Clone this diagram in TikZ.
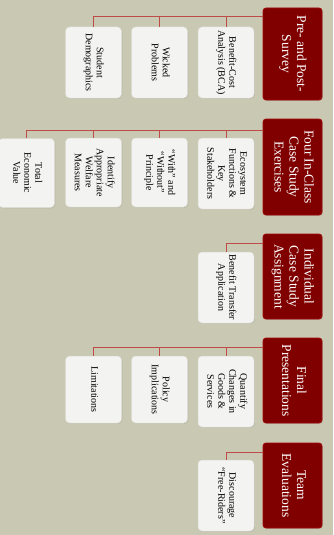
\documentclass[tikz,border=0pt]{standalone}
\usepackage{fontspec}
\setmainfont{Liberation Serif}
\usetikzlibrary{shadows}
\definecolor{bgc}{RGB}{201,200,178}
\definecolor{darkred}{RGB}{128,0,0}
\definecolor{redborder}{RGB}{160,10,10}
\definecolor{boxw}{RGB}{243,243,242}
\definecolor{boxedge}{RGB}{220,220,210}
\definecolor{connc}{RGB}{190,75,72}
\newcommand{\rtxt}[1]{\rotatebox{-90}{\begin{tabular}{@{}c@{}}#1\end{tabular}}}
\tikzset{
 rbox/.style={fill=darkred, draw=redborder, rounded corners=3pt, line width=0.8pt, text=white, inner sep=0pt, minimum width=59pt, font=\fontsize{13.5}{15}\selectfont, drop shadow={opacity=0.3, shadow xshift=0.8pt, shadow yshift=-0.8pt}},
 wbox/.style={fill=boxw, draw=boxedge, rounded corners=4pt, line width=0.5pt, inner sep=0pt, minimum width=56pt, font=\fontsize{10}{11}\selectfont, drop shadow={opacity=0.2, shadow xshift=0.8pt, shadow yshift=-0.8pt}},
 conn/.style={draw=connc, line width=1pt}
}
\begin{document}
\begin{tikzpicture}[x=1pt,y=-1pt]
\fill[bgc] (0,0) rectangle (333,535);
\useasboundingbox (0,0) rectangle (333,535);
% row 1
\node[rbox, minimum height=92pt] (r1) at (292.5,54) {\rtxt{Pre- and Post-\\Survey}};
\node[wbox, minimum height=71pt] (c11) at (226,62.5) {\rtxt{Benefit-Cost\\Analysis (BCA)}};
\node[wbox, minimum height=71pt] (c12) at (159.5,62.5) {\rtxt{Wicked\\Problems}};
\node[wbox, minimum height=71pt] (c13) at (93.5,62.5) {\rtxt{Student\\Demographics}};
\coordinate (j1) at (0,17);
\foreach \c in {c11,c12,c13} \draw[conn] (\c.north) |- (r1.west |- j1);
% row 2
\node[rbox, minimum height=96pt] (r2) at (292.5,167) {\rtxt{Four In-Class\\Case Study\\Exercises}};
\node[wbox, minimum height=71pt] (c21) at (226,173.5) {\rtxt{Ecosystem\\Functions \&\\Key\\Stakeholders}};
\node[wbox, minimum height=69pt] (c22) at (159.5,172.5) {\rtxt{“With” and\\“Without”\\Principle}};
\node[wbox, minimum height=69pt] (c23) at (93.5,172.5) {\rtxt{Identify\\Appropriate\\Welfare\\Measures}};
\node[wbox, minimum height=69pt] (c24) at (26.5,173) {\rtxt{Total\\Economic\\Value}};
\coordinate (j2) at (0,130);
\foreach \c in {c21,c22,c23,c24} \draw[conn] (\c.north) |- (r2.west |- j2);
% row 3
\node[rbox, minimum height=85pt] (r3) at (292.5,276.5) {\rtxt{Individual\\Case Study\\Assignment}};
\node[wbox, minimum height=71pt] (c31) at (226,287.5) {\rtxt{Benefit Transfer\\Application}};
\coordinate (j3) at (0,243);
\draw[conn] (c31.north) |- (r3.west |- j3);
% row 4
\node[rbox, minimum height=85pt] (r4) at (292.5,380.5) {\rtxt{Final\\Presentations}};
\node[wbox, minimum height=71pt] (c41) at (226,391.5) {\rtxt{Quantify\\Changes in\\Goods \&\\Services}};
\node[wbox, minimum height=67pt] (c42) at (159.5,389.5) {\rtxt{Policy\\Implications}};
\node[wbox, minimum height=67pt] (c43) at (93.5,389.5) {\rtxt{Limitations}};
\coordinate (j4) at (0,347);
\foreach \c in {c41,c42,c43} \draw[conn] (\c.north) |- (r4.west |- j4);
% row 5
\node[rbox, minimum height=85pt] (r5) at (292.5,485.5) {\rtxt{Team\\Evaluations}};
\node[wbox, minimum height=71pt] (c51) at (226,495.5) {\rtxt{Discourage\\“Free-Riders”}};
\coordinate (j5) at (0,452);
\draw[conn] (c51.north) |- (r5.west |- j5);
\end{tikzpicture}
\end{document}
